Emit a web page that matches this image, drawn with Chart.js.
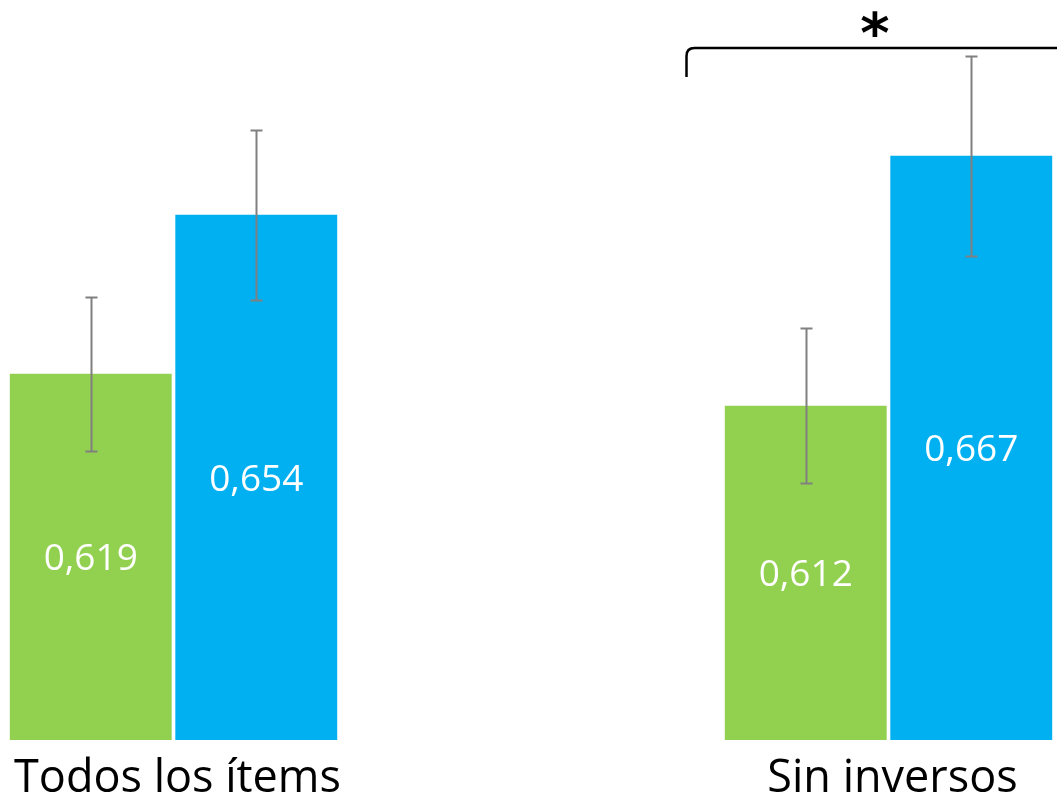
<!DOCTYPE html>
<html>
<head>
<meta charset="utf-8">
<script src="https://cdn.jsdelivr.net/npm/chart.js@4/dist/chart.umd.min.js"></script>
<style>
  html, body { margin: 0; padding: 0; background: #ffffff; }
  #wrap { width: 1057px; height: 799px; position: relative; overflow: hidden; }
</style>
</head>
<body>
<div id="wrap"><canvas id="c" width="1057" height="799"></canvas></div>
<script>
// Categories and series
const categories = ['Todos los ítems', 'Sin inversos'];
const greenValues = [0.619, 0.612];
const blueValues = [0.654, 0.667];
// Error margins (± around each bar value)
const greenErrors = [0.017, 0.017];
const blueErrors = [0.0187, 0.022];

// Value axis bounds
const yMin = 0.5384;
const yMax = 0.7013;

const fmt = v => v.toFixed(3).replace('.', ',');

// Error bars + value labels drawn from each bar element
const barExtras = {
  id: 'barExtras',
  afterDatasetsDraw(chart) {
    const ctx = chart.ctx;
    const y = chart.scales.y;
    chart.data.datasets.forEach((ds, di) => {
      const meta = chart.getDatasetMeta(di);
      meta.data.forEach((bar, i) => {
        const v = ds.data[i];
        // value label centred in the bar
        ctx.save();
        ctx.fillStyle = '#ffffff';
        ctx.font = '37px "Open Sans", sans-serif';
        ctx.textAlign = 'center';
        ctx.textBaseline = 'middle';
        ctx.fillText(fmt(v), bar.x, (bar.y + bar.base) / 2 + 3);
        ctx.restore();
        // error bar
        const e = ds.errors[i];
        const top = Math.round(y.getPixelForValue(v + e)) + 0.5;
        const bot = Math.round(y.getPixelForValue(v - e)) + 0.5;
        const cx = Math.round(bar.x) + 0.5;
        ctx.save();
        ctx.strokeStyle = '#808080';
        ctx.lineWidth = 2;
        ctx.beginPath();
        ctx.moveTo(cx, top); ctx.lineTo(cx, bot);
        ctx.moveTo(cx - 6, top); ctx.lineTo(cx + 6, top);
        ctx.moveTo(cx - 6, bot); ctx.lineTo(cx + 6, bot);
        ctx.stroke();
        ctx.restore();
      });
    });
  }
};

// Significance bracket over the second group
const bracket = {
  id: 'bracket',
  afterDraw(chart) {
    const ctx = chart.ctx;
    const left = 686.5, lineY = 48, footY = 77, r = 8;
    ctx.save();
    ctx.strokeStyle = '#000000';
    ctx.lineWidth = 2.5;
    ctx.beginPath();
    ctx.moveTo(left, footY);
    ctx.lineTo(left, lineY + r);
    ctx.quadraticCurveTo(left, lineY, left + r, lineY);
    ctx.lineTo(chart.width + 5, lineY);
    ctx.stroke();
    ctx.fillStyle = '#000000';
    ctx.font = 'bold 56px "DejaVu Sans", sans-serif';
    ctx.textAlign = 'center';
    ctx.textBaseline = 'alphabetic';
    ctx.fillText('*', 875, 52);
    ctx.restore();
  }
};

new Chart(document.getElementById('c'), {
  type: 'bar',
  data: {
    labels: categories,
    datasets: [
      { data: greenValues, errors: greenErrors, backgroundColor: '#92D050', clip: false, base: yMin },
      { data: blueValues, errors: blueErrors, backgroundColor: '#00B0F0', clip: false, base: yMin }
    ]
  },
  options: {
    responsive: false,
    devicePixelRatio: 1,
    animation: false,
    categoryPercentage: 0.463,
    barPercentage: 0.978,
    layout: { padding: { left: 173.5, right: 168.5, top: 0, bottom: -20 } },
    plugins: { legend: { display: false }, tooltip: { enabled: false } },
    scales: {
      x: {
        offset: false,
        grid: { display: false, drawTicks: false },
        border: { display: false },
        ticks: {
          color: '#000000',
          padding: 6,
          labelOffset: 4,
          maxRotation: 0,
          font: { family: '"Open Sans", sans-serif', size: 45, lineHeight: 1.49 }
        }
      },
      y: { display: false, min: yMin, max: yMax }
    }
  },
  plugins: [barExtras, bracket]
});
</script>
</body>
</html>
